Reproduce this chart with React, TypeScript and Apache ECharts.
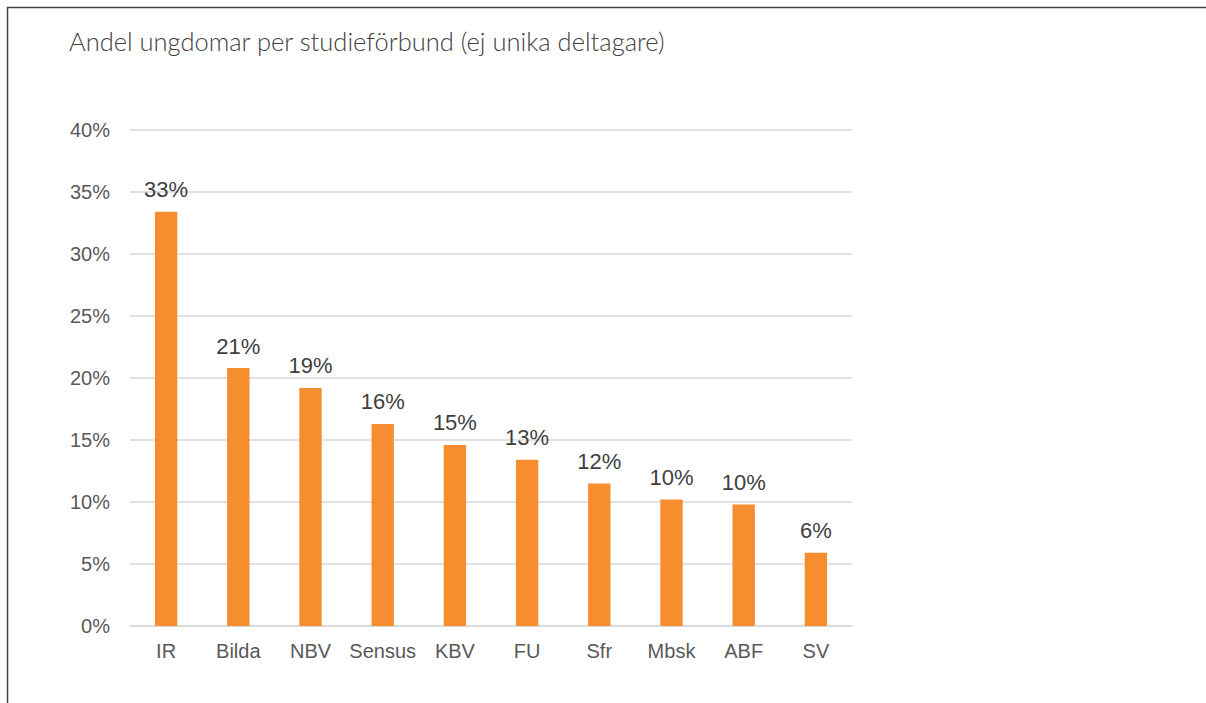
import React, { useEffect, useRef } from "react";
import * as echarts from "echarts";

const categories = ["IR", "Bilda", "NBV", "Sensus", "KBV", "FU", "Sfr", "Mbsk", "ABF", "SV"];
const values = [33.4, 20.8, 19.2, 16.3, 14.6, 13.4, 11.5, 10.2, 9.8, 5.9];
const title = "Andel ungdomar per studieförbund (ej unika deltagare)";

export default function App() {
  const ref = useRef<HTMLDivElement>(null);
  useEffect(() => {
    if (!ref.current) return;
    const chart = echarts.init(ref.current, null, { renderer: "svg" });
    chart.setOption({
      animation: false,
      backgroundColor: "#ffffff",
      title: {
        text: title,
        left: 64,
        top: 23,
        textStyle: {
          fontFamily: "Lato",
          fontWeight: 300,
          fontSize: 25.5,
          color: "#404040",
        },
      },
      graphic: [
        {
          type: "rect",
          shape: { x: 7.5, y: 7.5, width: 1400, height: 900 },
          style: { fill: "none", stroke: "#444444", lineWidth: 1.5 },
          silent: true,
        },
      ],
      grid: { left: 130, right: 354, top: 130, bottom: 77, containLabel: false },
      xAxis: {
        type: "category",
        data: categories,
        axisLine: { show: true, lineStyle: { color: "#d9d9d9", width: 1.5 } },
        axisTick: { show: false },
        axisLabel: {
          interval: 0,
          fontFamily: "Liberation Sans",
          fontSize: 20,
          color: "#595959",
          margin: 15,
        },
      },
      yAxis: {
        type: "value",
        min: 0,
        max: 40,
        interval: 5,
        axisLine: { show: false },
        axisTick: { show: false },
        splitLine: { lineStyle: { color: "#d9d9d9", width: 1.5 } },
        axisLabel: {
          formatter: "{value}%",
          fontFamily: "Liberation Sans",
          fontSize: 20,
          color: "#595959",
          margin: 20,
        },
      },
      series: [
        {
          type: "bar",
          data: values,
          barWidth: "31%",
          itemStyle: { color: "#F68E2F" },
          label: {
            show: true,
            position: "top",
            distance: 11,
            formatter: (p: any) => Math.round(p.value) + "%",
            fontFamily: "Liberation Sans",
            fontSize: 22,
            color: "#404040",
          },
        },
      ],
    });
    return () => chart.dispose();
  }, []);
  return (
    <div
      ref={ref}
      style={{ position: "fixed", left: 0, top: 0, width: 1206, height: 703 }}
    />
  );
}
